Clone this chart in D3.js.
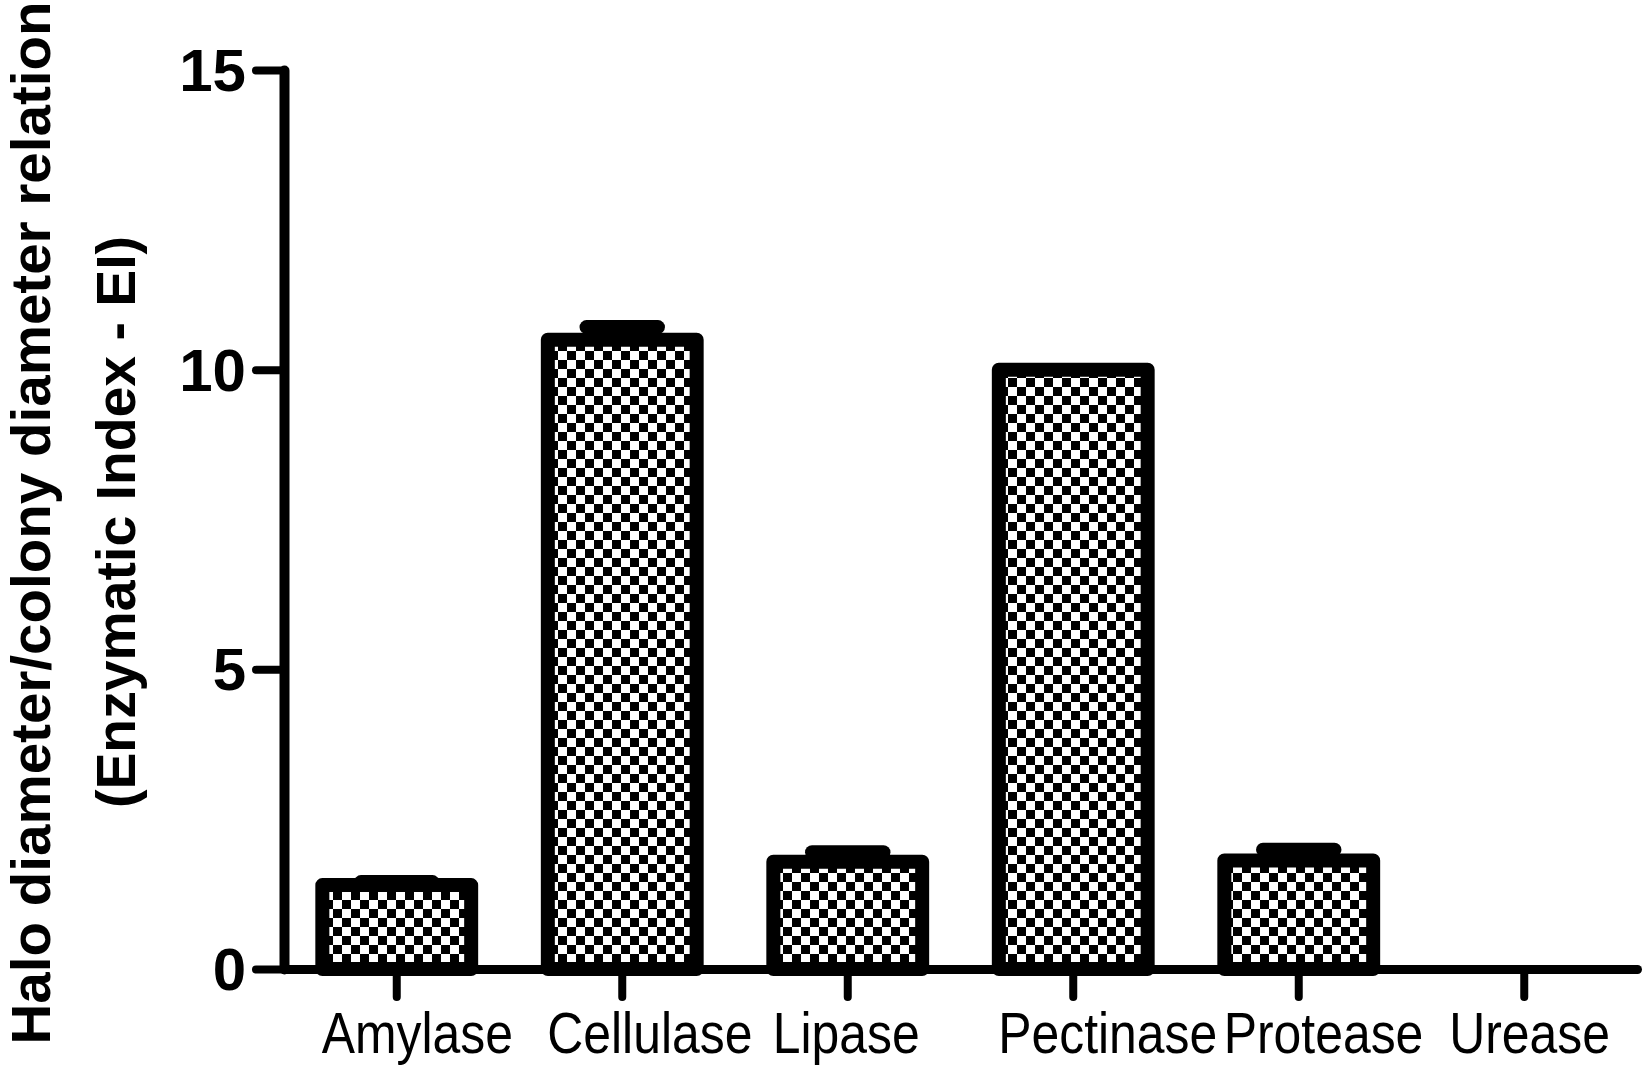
<!DOCTYPE html>
<html>
<head>
<meta charset="utf-8">
<script src="https://cdn.jsdelivr.net/npm/d3@7"></script>
<style>
  html, body { margin: 0; padding: 0; background: #fff; }
  svg { display: block; }
</style>
</head>
<body>
<svg id="chart" width="1646" height="1071"></svg>
<script>
const categories = ["Amylase", "Cellulase", "Lipase", "Pectinase", "Protease", "Urease"];
const values = [1.40, 10.50, 1.79, 10.0, 1.81, 0];
const errors = [0.05, 0.21, 0.16, 0, 0.18, 0];
const yTicks = [0, 5, 10, 15];
const yLabelLine1 = "Halo diameter/colony diameter relation";
const yLabelLine2 = "(Enzymatic Index - EI)";

const svg = d3.select("#chart");

const x = d3.scaleBand().domain(categories).range([284, 1637])
  .paddingInner(0.34).paddingOuter(0.17);
const y = d3.scaleLinear().domain([0, 15]).range([969, 70]);

// checkerboard pattern
const defs = svg.append("defs");
const pat = defs.append("pattern").attr("id", "checker")
  .attr("patternUnits", "userSpaceOnUse").attr("width", 18).attr("height", 18)
  .attr("x", 0).attr("y", 0);
pat.append("rect").attr("width", 18).attr("height", 18).attr("fill", "#fff");
pat.append("rect").attr("x", 0).attr("y", 0).attr("width", 9).attr("height", 9).attr("fill", "#000");
pat.append("rect").attr("x", 9).attr("y", 9).attr("width", 9).attr("height", 9).attr("fill", "#000");

const data = categories.map((c, i) => ({ c, v: values[i], e: errors[i] }));
const capHalf = x.bandwidth() * 0.24;

// error bars (upper only)
const eb = svg.append("g");
data.filter(d => d.e > 0 && d.v > 0).forEach(d => {
  const cx = x(d.c) + x.bandwidth() / 2;
  eb.append("line").attr("x1", cx).attr("x2", cx)
    .attr("y1", y(d.v)).attr("y2", y(d.v + d.e))
    .attr("stroke", "#000").attr("stroke-width", 10);
  eb.append("line").attr("x1", cx - capHalf).attr("x2", cx + capHalf)
    .attr("y1", y(d.v + d.e)).attr("y2", y(d.v + d.e))
    .attr("stroke", "#000").attr("stroke-width", 14).attr("stroke-linecap", "round");
});

// bars
svg.append("g").selectAll("rect").data(data.filter(d => d.v > 0)).join("rect")
  .attr("x", d => x(d.c))
  .attr("y", d => y(d.v))
  .attr("width", x.bandwidth())
  .attr("height", d => y(0) - y(d.v))
  .attr("fill", "url(#checker)")
  .attr("stroke", "#000")
  .attr("stroke-width", 14)
  .attr("stroke-linejoin", "round");

// y axis
const yAxis = svg.append("g").attr("transform", "translate(284,0)")
  .call(d3.axisLeft(y).tickValues(yTicks).tickFormat(d3.format("d"))
    .tickSize(28).tickSizeOuter(0).tickPadding(10));
yAxis.select(".domain").attr("stroke", "#000").attr("stroke-width", 10)
  .attr("stroke-linecap", "round").attr("stroke-linejoin", "round");
yAxis.selectAll(".tick line").attr("stroke", "#000").attr("stroke-width", 8)
  .attr("stroke-linecap", "round");
yAxis.selectAll(".tick text").attr("fill", "#000")
  .style("font-family", "'Liberation Sans', Arial, sans-serif")
  .style("font-weight", "bold").style("font-size", "60px")
  .attr("dy", "0.34em");

// x axis
const xAxis = svg.append("g").attr("transform", "translate(0,969)")
  .call(d3.axisBottom(x).tickSize(28).tickSizeOuter(0).tickFormat(""));
xAxis.select(".domain").attr("stroke", "#000").attr("stroke-width", 9)
  .attr("stroke-linecap", "round");
xAxis.selectAll(".tick line").attr("stroke", "#000").attr("stroke-width", 8)
  .attr("stroke-linecap", "round");

// x labels (left-aligned relative to each tick, as in the original)
svg.append("g").selectAll("text").data(categories).join("text")
  .attr("transform", d => `translate(${x(d) + x.bandwidth() / 2 - 75},1053) scale(0.86,1)`)
  .attr("text-anchor", "start")
  .style("font-family", "'Liberation Sans', Arial, sans-serif")
  .style("font-size", "58px")
  .attr("fill", "#000")
  .text(d => d);

// y label
svg.append("text").attr("transform", "translate(50,523) rotate(-90)")
  .attr("text-anchor", "middle")
  .attr("textLength", 1043).attr("lengthAdjust", "spacingAndGlyphs")
  .style("font-family", "'Liberation Sans', Arial, sans-serif")
  .style("font-weight", "bold").style("font-size", "56px")
  .attr("fill", "#000").text(yLabelLine1);
svg.append("text").attr("transform", "translate(135,522) rotate(-90)")
  .attr("text-anchor", "middle")
  .attr("textLength", 572).attr("lengthAdjust", "spacingAndGlyphs")
  .style("font-family", "'Liberation Sans', Arial, sans-serif")
  .style("font-weight", "bold").style("font-size", "56px")
  .attr("fill", "#000").text(yLabelLine2);
</script>
</body>
</html>
